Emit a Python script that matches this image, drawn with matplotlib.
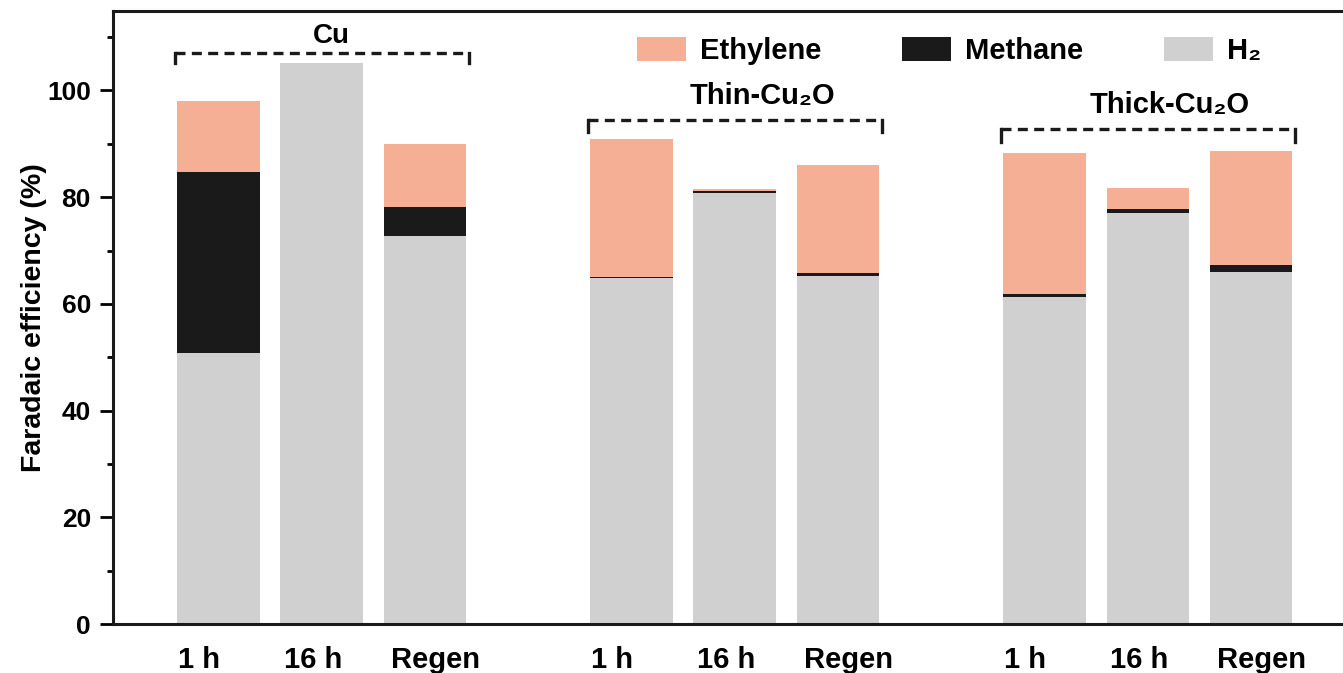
import matplotlib
matplotlib.use("Agg")
import matplotlib.pyplot as plt
import numpy as np

plt.rcParams['font.family'] = ['Liberation Sans', 'DejaVu Sans']
plt.rcParams['font.weight'] = 'bold'

groups = ["Cu", "Thin-Cu₂O", "Thick-Cu₂O"]
conditions = ["1 h", "16 h", "Regen"]
tick_labels = conditions * 3
h2 = [50.8, 105.2, 72.7, 64.8, 80.8, 65.3, 61.3, 77.1, 66.0]
methane = [33.9, 0.0, 5.4, 0.3, 0.3, 0.4, 0.5, 0.7, 1.25]
ethylene = [13.35, 0.0, 11.9, 25.9, 0.4, 20.3, 26.4, 3.9, 21.5]
bracket_y = [107.1, 94.4, 92.7]
bracket_drop = [2.0, 2.2, 2.4]
label_pos = [(1.09, 108.85), (5.27, 97.4), (9.21, 95.8)]
label_size = [20, 21, 21]

c_eth = '#F4AF94'
c_met = '#1A1A1A'
c_h2 = '#D0D0D0'

positions = [g * 4 + i for g in range(3) for i in range(3)]
x = np.array(positions, dtype=float)
h2a = np.array(h2)
meta = np.array(methane)
etha = np.array(ethylene)

fig = plt.figure(figsize=(13.43, 6.73), dpi=100)
ax = fig.add_axes([113/1343, 1 - 624/673, 1.0 - 113/1343 + 0.01, (624 - 11)/673])

w = 0.8
ax.bar(x, h2a, w, color=c_h2, label='H₂', zorder=2)
ax.bar(x, meta, w, bottom=h2a, color=c_met, label='Methane', zorder=2)
ax.bar(x, etha, w, bottom=h2a + meta, color=c_eth, label='Ethylene', zorder=2)

ax.set_xlim(-1.02, 11.02)
ax.set_ylim(0, 114.9)
label_shift = np.array([-0.19, -0.08, 0.105] * 3)
ax.set_xticks(x + label_shift)
ax.set_xticklabels(tick_labels, fontsize=21, fontweight='bold')
ax.set_yticks([0, 20, 40, 60, 80, 100])
ax.set_yticks([10, 30, 50, 70, 90, 110], minor=True)
ax.tick_params(axis='y', which='major', length=9.4, width=2, labelsize=19, pad=6.5)
ax.tick_params(axis='y', which='minor', length=4.5, width=2)
ax.tick_params(axis='x', which='both', length=0, pad=16)
for lab in ax.get_yticklabels():
    lab.set_fontweight('bold')
ax.spines['right'].set_visible(False)
for s in ['left', 'bottom', 'top']:
    ax.spines[s].set_linewidth(2.2)
    ax.spines[s].set_color('#1a1a1a')

ax.set_ylabel('Faradaic efficiency (%)', fontsize=20.5, fontweight='bold')
ax.yaxis.set_label_coords(-0.053, 0.5)

for g in range(3):
    x0 = g * 4 - 0.42
    x1 = g * 4 + 2.43
    y = bracket_y[g]
    d = bracket_drop[g]
    ax.plot([x0, x1], [y, y], color='#1a1a1a', lw=2.4, ls=(0, (3, 1.9)), zorder=3)
    ax.plot([x0, x0], [y, y - d], color='#1a1a1a', lw=2.4, zorder=3)
    ax.plot([x1, x1], [y, y - d], color='#1a1a1a', lw=2.4, zorder=3)
    ax.text(label_pos[g][0], label_pos[g][1], groups[g], ha='center', va='baseline',
            fontsize=label_size[g], fontweight='bold')

handles, labels = ax.get_legend_handles_labels()
order = [2, 1, 0]
leg = ax.legend([handles[i] for i in order], [labels[i] for i in order],
                ncol=3, frameon=False, loc='upper left', borderaxespad=0,
                bbox_to_anchor=(625/1343, 1 - 25/673), bbox_transform=fig.transFigure,
                handlelength=1.7, handleheight=0.89, columnspacing=2.75, handletextpad=0.48,
                prop={'size': 21, 'weight': 'bold'})

fig.savefig('out.png', dpi=100)
